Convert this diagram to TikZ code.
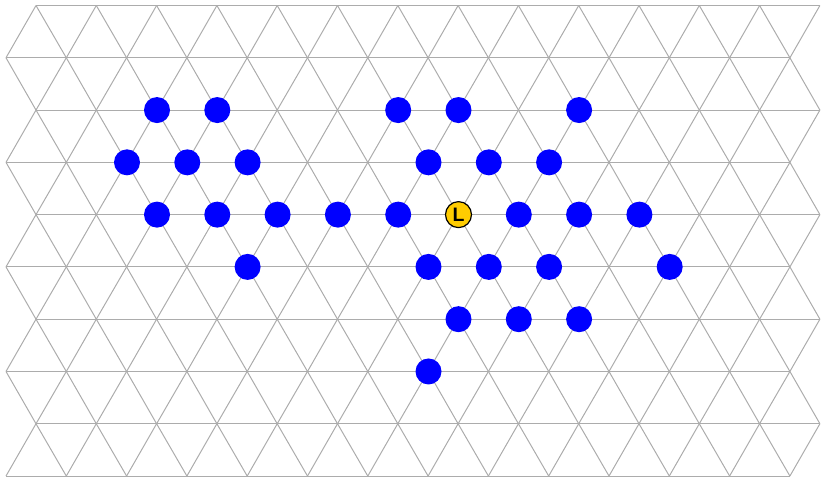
\documentclass[tikz,border=0pt]{standalone}
\usepackage{fontspec}
\setsansfont{Liberation Sans}
\definecolor{gridgray}{RGB}{172,172,172}
\definecolor{dotblue}{RGB}{0,0,255}
\definecolor{leadgold}{RGB}{255,204,0}
\begin{document}
\begin{tikzpicture}[x=1pt,y=-1pt,
  gridline/.style={draw=gridgray,line width=1pt},
  dot/.style={circle,fill=dotblue,minimum size=26pt,inner sep=0pt},
  leader/.style={circle,fill=leadgold,draw=black,line width=1.2pt,minimum size=26pt,inner sep=0pt,
    font=\sffamily\bfseries\fontsize{19.5}{19.5}\selectfont}]
\useasboundingbox (0,0) rectangle (821,477);
% horizontal grid lines
\foreach \r in {0,...,9}{
  \pgfmathsetmacro\yy{5.5+52.28*\r}
  \ifodd\r
    \draw[gridline] (6,\yy) -- (790,\yy);
  \else
    \draw[gridline] (36,\yy) -- (820,\yy);
  \fi
}
% diagonal grid lines
\foreach \r in {0,...,8}{
  \ifodd\r
    \pgfmathsetmacro\yo{5.5+52.28*\r}
    \pgfmathsetmacro\ye{5.5+52.28*(\r+1)}
  \else
    \pgfmathsetmacro\ye{5.5+52.28*\r}
    \pgfmathsetmacro\yo{5.5+52.28*(\r+1)}
  \fi
  \foreach \k in {0,...,13}{
    \draw[gridline] ({36+60.3*\k},\ye) -- ({6+60.3*\k},\yo);
  }
  \foreach \k in {0,...,12}{
    \draw[gridline] ({36+60.3*\k},\ye) -- ({66.3+60.3*\k},\yo);
  }
}
% dots
\node[dot] (a1) at (157,110.06) {};
\node[dot] (a2) at (217.3,110.06) {};
\node[dot] (a3) at (398.2,110.06) {};
\node[dot] (a4) at (458.5,110.06) {};
\node[dot] (a5) at (579.1,110.06) {};
\node[dot] (b1) at (127,162.34) {};
\node[dot] (b2) at (187.3,162.34) {};
\node[dot] (b3) at (247.6,162.34) {};
\node[dot] (b4) at (428.5,162.34) {};
\node[dot] (b5) at (488.8,162.34) {};
\node[dot] (b6) at (549.1,162.34) {};
\node[dot] (c1) at (157,214.62) {};
\node[dot] (c2) at (217.3,214.62) {};
\node[dot] (c3) at (277.6,214.62) {};
\node[dot] (c4) at (337.9,214.62) {};
\node[dot] (c5) at (398.2,214.62) {};
\node[leader] (L) at (458.5,214.62) {L};
\node[dot] (c7) at (518.8,214.62) {};
\node[dot] (c8) at (579.1,214.62) {};
\node[dot] (c9) at (639.4,214.62) {};
\node[dot] (d1) at (247.6,266.9) {};
\node[dot] (d2) at (428.5,266.9) {};
\node[dot] (d3) at (488.8,266.9) {};
\node[dot] (d4) at (549.1,266.9) {};
\node[dot] (d5) at (669.7,266.9) {};
\node[dot] (e1) at (458.5,319.18) {};
\node[dot] (e2) at (518.8,319.18) {};
\node[dot] (e3) at (579.1,319.18) {};
\node[dot] (f1) at (428.5,371.46) {};
\end{tikzpicture}
\end{document}
